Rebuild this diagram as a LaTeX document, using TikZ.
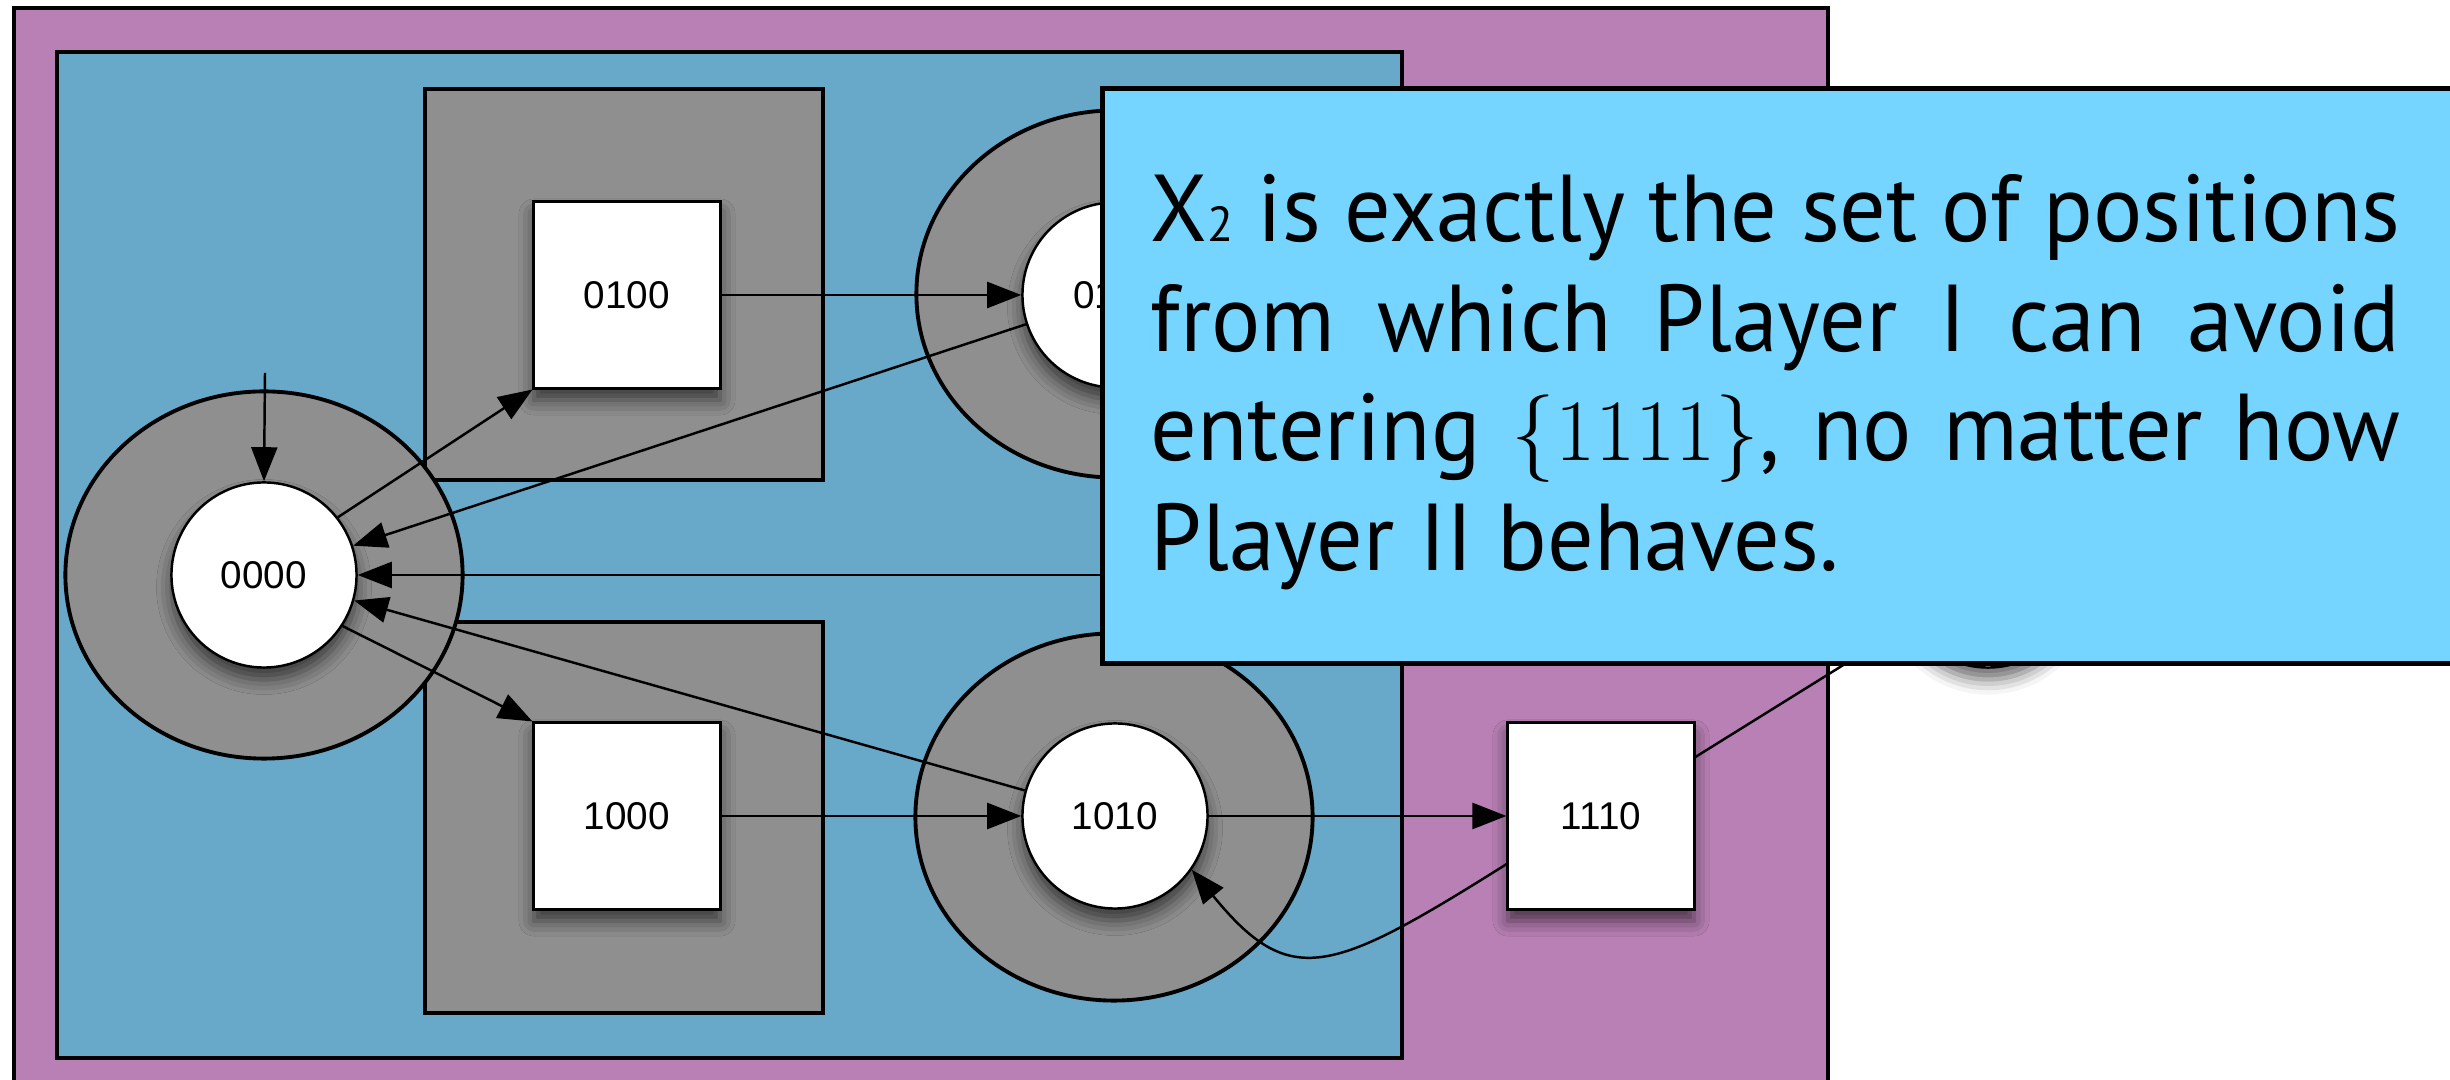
\documentclass[tikz,border=0pt]{standalone}
\usepackage{fontspec}
\setmainfont{PT Sans}[FakeStretch=0.97]
\newfontfamily\labelfont{Liberation Sans}
\usepackage{tikz}
\usetikzlibrary{shapes.geometric, arrows.meta, shadows.blur}
\definecolor{SetPurple}{HTML}{B880B4}
\definecolor{SetBlue}{HTML}{68A8C8}
\definecolor{RingGray}{HTML}{8F8F8F}
\definecolor{NoteCyan}{HTML}{76D5FE}
\tikzset{
    % Region styles
    regionbox/.style={
        draw=black,
        line width=1.3pt
    },
    % Node styles
    ringnode/.style={
        ellipse,
        draw=black,
        fill=RingGray,
        line width=1.1pt,
        minimum width=3.97cm,
        minimum height=3.67cm
    },
    playernode/.style={
        circle,
        draw=black,
        fill=white,
        line width=0.7pt,
        minimum size=1.85cm,
        inner sep=0pt,
        font=\labelfont\fontsize{11}{13}\selectfont,
        blur shadow={shadow xshift=0pt, shadow yshift=-0.12cm, shadow blur radius=0.15cm, shadow opacity=60}
    },
    oppbox/.style={
        rectangle,
        draw=black,
        fill=white,
        line width=0.85pt,
        minimum size=1.86cm,
        inner sep=0pt,
        font=\labelfont\fontsize{11}{13}\selectfont,
        blur shadow={shadow xshift=0pt, shadow yshift=-0.12cm, shadow blur radius=0.15cm, shadow opacity=60}
    },
    notebox/.style={
        rectangle,
        draw=black,
        fill=NoteCyan,
        line width=1.3pt,
        minimum width=13.7cm,
        minimum height=5.75cm,
        anchor=north west
    },
    notetext/.style={
        text width=12.49cm,
        align=justify,
        inner sep=0pt,
        anchor=base west,
        font=\fontsize{27}{31.1}\selectfont
    },
    % Arrow styles
    myarrow/.style={
        -{Triangle[length=3.4mm,width=2.6mm]},
        line width=0.7pt,
        black
    }
}

\begin{document}
\begin{tikzpicture}[x=0.01cm, y=-0.01cm]
    \useasboundingbox (0,0) rectangle (2450,1080);

    % Regions
    \draw[regionbox, fill=SetPurple] (14,8) rectangle (1828,1095);
    \draw[regionbox, fill=SetBlue] (57,52) rectangle (1402,1058);
    \draw[regionbox, fill=RingGray] (425,89) rectangle (823,480);
    \draw[regionbox, fill=RingGray] (425,622) rectangle (823,1013);

    % Rings
    \node[ringnode] (r0000) at (264,575) {};
    \node[ringnode] (r0110) at (1115,294) {};
    \node[ringnode] (r1010) at (1114,817) {};

    % Positions
    \node[playernode] (n0000) at (264,575) {0000};
    \node[oppbox] (n0100) at (627,295) {0100};
    \node[playernode] (n0110) at (1115,295) {0110};
    \node[oppbox] (n1000) at (627,816) {1000};
    \node[playernode] (n1010) at (1115,816) {1010};
    \node[oppbox] (n1110) at (1601,816) {1110};
    \node[playernode] (nhide) at (1988,575) {};
    \coordinate (start) at (265,373);

    % Moves
    \draw[myarrow] (start) -- (n0000.north);
    \draw[myarrow] (n0000.38) -- (n0100.south west);
    \draw[myarrow] (n0100) -- (n0110);
    \draw[myarrow] (n0110) -- (n0000);
    \draw[myarrow] (nhide) -- (n0000);
    \draw[myarrow] (n0000.-33) -- (n1000.north west);
    \draw[myarrow] (n1010) -- (n0000);
    \draw[myarrow] (n1000) -- (n1010);
    \draw[myarrow] (n1010) -- (n1110);
    \draw[myarrow] (n1110.207) .. controls (1330,975) and (1290,990) .. (n1010.-35);
    \draw[myarrow] (n1110.32) -- (nhide);

    % Note
    \node[notebox] (note) at (1100,86) {};
    \node[notetext] (notetxt) at (1150,242) {X{\fontsize{14}{16}\selectfont 2} is exactly the set of positions\linebreak from which Player I can avoid\linebreak entering $\{1111\}$, no matter how\linebreak Player II behaves.};
\end{tikzpicture}
\end{document}
